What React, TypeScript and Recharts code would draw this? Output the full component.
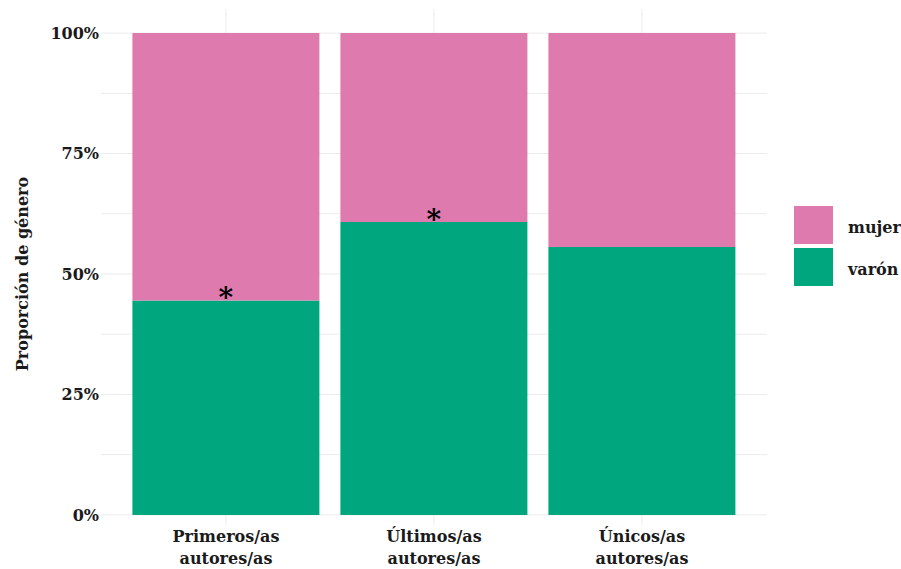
import { BarChart, Bar, XAxis, YAxis, CartesianGrid, LabelList } from 'recharts';

const categorias = ['Primeros/as autores/as', 'Últimos/as autores/as', 'Únicos/as autores/as'];
const varon = [0.445, 0.608, 0.556];
const mujer = [0.555, 0.392, 0.444];
const marcas = ['*', '*', ''];
const ticksY = [0, 0.125, 0.25, 0.375, 0.5, 0.625, 0.75, 0.875, 1];
const etiquetasY = ['0%', '', '25%', '', '50%', '', '75%', '', '100%'];

const series = [
  { key: 'mujer', name: 'mujer', color: '#DF7AAE' },
  { key: 'varon', name: 'varón', color: '#00A77E' },
];

const data = categorias.map((c, i) => ({
  categoria: c,
  varon: varon[i],
  mujer: mujer[i],
  marca: marcas[i],
}));

const FONT = '"DejaVu Serif", serif';
const Y_MIN = -0.021;
const Y_MAX = 1.05;
const PAD_X = 21;

const TickX = ({ x, y, payload }: any) => {
  const [a, b] = String(payload.value).split(' ');
  return (
    <text x={x} y={y} textAnchor="middle" fontFamily={FONT} fontWeight="bold" fontSize={16} fill="#1a1a1a">
      <tspan x={x} dy={9}>{a}</tspan>
      <tspan x={x} dy={22}>{b}</tspan>
    </text>
  );
};

const Asterisco = ({ x, y, width, value }: any) => {
  if (!value) return null;
  return (
    <text x={x + width / 2} y={y + 7} textAnchor="middle" fontFamily={FONT} fontWeight="bold" fontSize={28} fill="#000">
      {value}
    </text>
  );
};

// grid lines only at the tick positions (no frame round the panel)
const lineasH = ({ offset }: any) =>
  ticksY.map((t) => offset.top + (offset.height * (Y_MAX - t)) / (Y_MAX - Y_MIN));
const lineasV = ({ offset }: any) => {
  const band = (offset.width - 2 * PAD_X) / categorias.length;
  return categorias.map((_, i) => offset.left + PAD_X + band * (i + 0.5));
};

export default function App() {
  return (
    <div style={{ position: 'absolute', left: 0, top: 0, width: 901, height: 569, background: '#fff' }}>
      <BarChart
        width={901}
        height={569}
        data={data}
        margin={{ top: 9, right: 134, bottom: 0, left: 0 }}
        barCategoryGap="5%"
      >
        <CartesianGrid
          stroke="#EBEBEB"
          strokeWidth={1}
          horizontalCoordinatesGenerator={lineasH}
          verticalCoordinatesGenerator={lineasV}
        />
        <XAxis
          dataKey="categoria"
          height={44}
          padding={{ left: PAD_X, right: PAD_X }}
          tickLine={false}
          axisLine={false}
          interval={0}
          tick={<TickX />}
        />
        <YAxis
          type="number"
          width={101}
          domain={[Y_MIN, Y_MAX]}
          allowDataOverflow
          ticks={ticksY}
          interval={0}
          tickFormatter={(v: number) => etiquetasY[ticksY.indexOf(v)] ?? ''}
          tickLine={false}
          axisLine={false}
          tickSize={0}
          tickMargin={2}
          tick={{ fontFamily: FONT, fontWeight: 'bold', fontSize: 16, fill: '#1a1a1a' }}
          label={{
            content: () => (
              <text
                x={22}
                y={274}
                transform="rotate(-90, 22, 274)"
                textAnchor="middle"
                dominantBaseline="central"
                fontFamily={FONT}
                fontWeight="bold"
                fontSize={16}
                fill="#1a1a1a"
              >
                Proporción de género
              </text>
            ),
          }}
        />
        <Bar dataKey="varon" name="varón" stackId="g" fill="#00A77E" isAnimationActive={false}>
          <LabelList dataKey="marca" content={<Asterisco />} />
        </Bar>
        <Bar dataKey="mujer" name="mujer" stackId="g" fill="#DF7AAE" isAnimationActive={false} />
      </BarChart>
      <div
        style={{
          position: 'absolute',
          left: 794,
          top: 206,
          fontFamily: FONT,
          fontWeight: 'bold',
          fontSize: 16,
          color: '#1a1a1a',
        }}
      >
        {series.map((s) => (
          <div key={s.key} style={{ display: 'flex', alignItems: 'center', height: 38, marginBottom: 4 }}>
            <div style={{ width: 39, height: 38, background: s.color }} />
            <span style={{ marginLeft: 15, position: 'relative', top: 2 }}>{s.name}</span>
          </div>
        ))}
      </div>
    </div>
  );
}
